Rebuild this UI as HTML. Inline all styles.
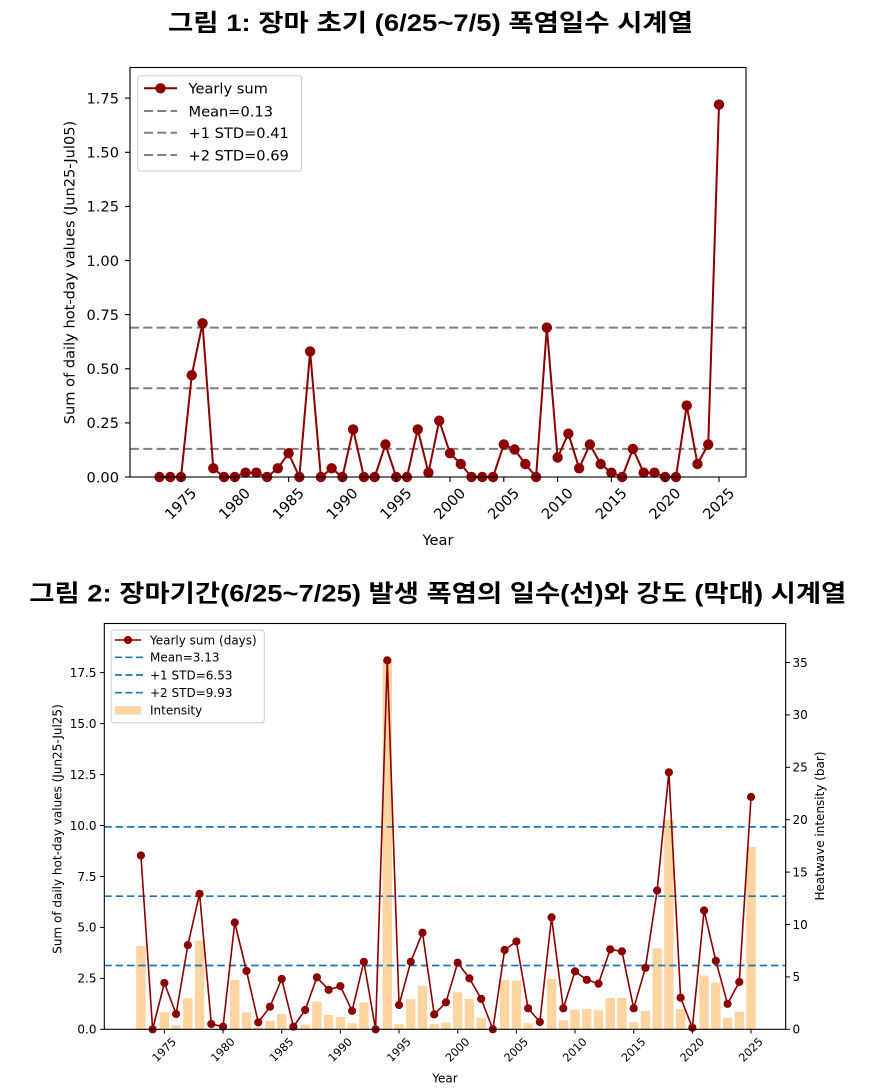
<!DOCTYPE html>
<html>
<head>
<meta charset="utf-8">
<style>
html,body{margin:0;padding:0;background:#fff;}
svg{display:block;}
.t{font-family:"DejaVu Sans","Liberation Sans",sans-serif;fill:#000;}
.ttl{font-family:"Liberation Sans","Noto Sans CJK KR","NanumGothic",sans-serif;font-weight:bold;fill:#000;}
</style>
</head>
<body>
<svg width="879" height="1088" viewBox="0 0 879 1088" xmlns="http://www.w3.org/2000/svg">
<defs>
<marker id="m1" markerWidth="12" markerHeight="12" refX="6" refY="6" markerUnits="userSpaceOnUse"><circle cx="6" cy="6" r="5.2" fill="#8b0000"/></marker>
<marker id="m2" markerWidth="10" markerHeight="10" refX="5" refY="5" markerUnits="userSpaceOnUse"><circle cx="5" cy="5" r="4.1" fill="#8b0000"/></marker>
</defs>
<rect x="0" y="0" width="879" height="1088" fill="#fff"/>

<!-- ================= TITLE 1 ================= -->
<text class="ttl" x="168" y="31" font-size="24" textLength="525" lengthAdjust="spacingAndGlyphs">그림 1: 장마 초기 (6/25~7/5) 폭염일수 시계열</text>

<!-- ================= CHART 1 ================= -->
<g>
<!-- reference lines -->
<g stroke="#808080" stroke-width="2" stroke-dasharray="9 4.3" fill="none">
<line x1="130" y1="448.9" x2="746" y2="448.9"/>
<line x1="130" y1="388.2" x2="746" y2="388.2"/>
<line x1="130" y1="327.6" x2="746" y2="327.6"/>
</g>
<!-- data -->
<polyline fill="none" stroke="#8b0000" stroke-width="2" stroke-linejoin="round" marker-start="url(#m1)" marker-mid="url(#m1)" marker-end="url(#m1)" points="159.48,477 170.24,477 181,477 191.76,375.2 202.52,323.3 213.28,468.3 224.04,477 234.8,477 245.56,472.7 256.32,472.7 267.08,477 277.84,468.3 288.6,453.2 299.36,477 310.12,351.4 320.88,477 331.64,468.3 342.4,477 353.16,429.4 363.92,477 374.68,477 385.44,444.5 396.2,477 406.96,477 417.72,429.4 428.48,472.7 439.24,420.7 450,453.2 460.76,464 471.52,477 482.28,477 493.04,477 503.8,444.5 514.56,449.5 525.32,464 536.08,477 546.84,327.6 557.6,457.5 568.36,433.7 579.12,468.3 589.88,444.5 600.64,464 611.4,472.7 622.16,477 632.92,448.9 643.68,472.7 654.44,472.7 665.2,477 675.96,477 686.72,405.6 697.48,464 708.24,444.5 719,104.6"/>
<!-- axes frame -->
<rect x="130" y="67.5" width="616" height="409.5" fill="none" stroke="#000" stroke-width="1.1"/>
<!-- y ticks -->
<g stroke="#000" stroke-width="1.1">
<line x1="125" y1="477" x2="130" y2="477"/>
<line x1="125" y1="422.9" x2="130" y2="422.9"/>
<line x1="125" y1="368.8" x2="130" y2="368.8"/>
<line x1="125" y1="314.6" x2="130" y2="314.6"/>
<line x1="125" y1="260.5" x2="130" y2="260.5"/>
<line x1="125" y1="206.4" x2="130" y2="206.4"/>
<line x1="125" y1="152.3" x2="130" y2="152.3"/>
<line x1="125" y1="98.1" x2="130" y2="98.1"/>
<line x1="181" y1="477" x2="181" y2="482"/>
<line x1="234.8" y1="477" x2="234.8" y2="482"/>
<line x1="288.6" y1="477" x2="288.6" y2="482"/>
<line x1="342.4" y1="477" x2="342.4" y2="482"/>
<line x1="396.2" y1="477" x2="396.2" y2="482"/>
<line x1="450" y1="477" x2="450" y2="482"/>
<line x1="503.8" y1="477" x2="503.8" y2="482"/>
<line x1="557.6" y1="477" x2="557.6" y2="482"/>
<line x1="611.4" y1="477" x2="611.4" y2="482"/>
<line x1="665.2" y1="477" x2="665.2" y2="482"/>
<line x1="719" y1="477" x2="719" y2="482"/>
</g>
<g class="t" font-size="14.6" text-anchor="end">
<text x="119" y="482.3">0.00</text>
<text x="119" y="428.2">0.25</text>
<text x="119" y="374.1">0.50</text>
<text x="119" y="319.9">0.75</text>
<text x="119" y="265.8">1.00</text>
<text x="119" y="211.7">1.25</text>
<text x="119" y="157.6">1.50</text>
<text x="119" y="103.4">1.75</text>
</g>
<g class="t" font-size="14.6" text-anchor="middle" dominant-baseline="central">
<text transform="translate(181,504) rotate(-45)">1975</text>
<text transform="translate(234.8,504) rotate(-45)">1980</text>
<text transform="translate(288.6,504) rotate(-45)">1985</text>
<text transform="translate(342.4,504) rotate(-45)">1990</text>
<text transform="translate(396.2,504) rotate(-45)">1995</text>
<text transform="translate(450,504) rotate(-45)">2000</text>
<text transform="translate(503.8,504) rotate(-45)">2005</text>
<text transform="translate(557.6,504) rotate(-45)">2010</text>
<text transform="translate(611.4,504) rotate(-45)">2015</text>
<text transform="translate(665.2,504) rotate(-45)">2020</text>
<text transform="translate(719,504) rotate(-45)">2025</text>
</g>
<text class="t" font-size="14.6" text-anchor="middle" x="438" y="545">Year</text>
<text class="t" font-size="14.6" text-anchor="middle" dominant-baseline="central" transform="translate(70,272.5) rotate(-90)">Sum of daily hot-day values (Jun25-Jul05)</text>
<!-- legend -->
<rect x="137.7" y="75.7" width="164" height="95.3" rx="3" ry="3" fill="#fff" fill-opacity="0.85" stroke="#cccccc" stroke-width="1"/>
<line x1="144" y1="88.3" x2="177" y2="88.3" stroke="#8b0000" stroke-width="2"/>
<circle cx="160.5" cy="88.3" r="5.2" fill="#8b0000"/>
<g stroke="#808080" stroke-width="2" stroke-dasharray="9 4.3">
<line x1="144" y1="111" x2="177" y2="111"/>
<line x1="144" y1="132.7" x2="177" y2="132.7"/>
<line x1="144" y1="155" x2="177" y2="155"/>
</g>
<g class="t" font-size="14.6">
<text x="188.5" y="93.6">Yearly sum</text>
<text x="188.5" y="116.3">Mean=0.13</text>
<text x="188.5" y="138">+1 STD=0.41</text>
<text x="188.5" y="160.3">+2 STD=0.69</text>
</g>
</g>

<!-- ================= TITLE 2 ================= -->
<text class="ttl" x="29.3" y="601.5" font-size="24" textLength="817" lengthAdjust="spacingAndGlyphs">그림 2: 장마기간(6/25~7/25) 발생 폭염의 일수(선)와 강도 (막대) 시계열</text>

<!-- ================= CHART 2 ================= -->
<g>
<!-- bars -->
<g fill="#fed4a0">
<rect x="136.22" y="946.0" width="9.39" height="83.3"/>
<rect x="159.68" y="1012.3" width="9.39" height="17.0"/>
<rect x="171.42" y="1025.3" width="9.39" height="4.0"/>
<rect x="183.15" y="998.3" width="9.39" height="31.0"/>
<rect x="194.88" y="940.6" width="9.39" height="88.7"/>
<rect x="230.08" y="980.0" width="9.39" height="49.3"/>
<rect x="241.82" y="1012.3" width="9.39" height="17.0"/>
<rect x="253.55" y="1027.3" width="9.39" height="2.0"/>
<rect x="265.28" y="1020.6" width="9.39" height="8.7"/>
<rect x="277.02" y="1014.0" width="9.39" height="15.3"/>
<rect x="300.48" y="1024.7" width="9.39" height="4.6"/>
<rect x="312.22" y="1001.6" width="9.39" height="27.7"/>
<rect x="323.95" y="1015.0" width="9.39" height="14.3"/>
<rect x="335.68" y="1017.0" width="9.39" height="12.3"/>
<rect x="347.41" y="1023.3" width="9.39" height="6.0"/>
<rect x="359.15" y="1002.4" width="9.39" height="26.9"/>
<rect x="382.61" y="660.4" width="9.39" height="368.9"/>
<rect x="394.35" y="1024.1" width="9.39" height="5.2"/>
<rect x="406.08" y="999.3" width="9.39" height="30.0"/>
<rect x="417.81" y="985.7" width="9.39" height="43.6"/>
<rect x="429.54" y="1024.1" width="9.39" height="5.2"/>
<rect x="441.28" y="1022.7" width="9.39" height="6.6"/>
<rect x="453.01" y="992.3" width="9.39" height="37.0"/>
<rect x="464.74" y="999.0" width="9.39" height="30.3"/>
<rect x="476.48" y="1017.7" width="9.39" height="11.6"/>
<rect x="499.94" y="980.0" width="9.39" height="49.3"/>
<rect x="511.68" y="980.7" width="9.39" height="48.6"/>
<rect x="523.41" y="1023.3" width="9.39" height="6.0"/>
<rect x="535.14" y="1028.3" width="9.39" height="1.0"/>
<rect x="546.87" y="979.0" width="9.39" height="50.3"/>
<rect x="558.61" y="1020.3" width="9.39" height="9.0"/>
<rect x="570.34" y="1009.7" width="9.39" height="19.6"/>
<rect x="582.07" y="1009.1" width="9.39" height="20.2"/>
<rect x="593.81" y="1010.3" width="9.39" height="19.0"/>
<rect x="605.54" y="998.0" width="9.39" height="31.3"/>
<rect x="617.27" y="998.0" width="9.39" height="31.3"/>
<rect x="629.01" y="1022.3" width="9.39" height="7.0"/>
<rect x="640.74" y="1011.0" width="9.39" height="18.3"/>
<rect x="652.47" y="948.3" width="9.39" height="81.0"/>
<rect x="664.20" y="820.0" width="9.39" height="209.3"/>
<rect x="675.94" y="1009.0" width="9.39" height="20.3"/>
<rect x="699.40" y="975.6" width="9.39" height="53.7"/>
<rect x="711.14" y="982.7" width="9.39" height="46.6"/>
<rect x="722.87" y="1017.7" width="9.39" height="11.6"/>
<rect x="734.60" y="1011.7" width="9.39" height="17.6"/>
<rect x="746.34" y="846.9" width="9.39" height="182.4"/>
</g>
<!-- reference lines -->
<g stroke="#1f77b4" stroke-width="1.7" stroke-dasharray="7.5 3.8" fill="none">
<line x1="104.3" y1="965.5" x2="785.7" y2="965.5"/>
<line x1="104.3" y1="896.2" x2="785.7" y2="896.2"/>
<line x1="104.3" y1="826.9" x2="785.7" y2="826.9"/>
</g>
<!-- line -->
<polyline fill="none" stroke="#8b0000" stroke-width="1.6" stroke-linejoin="round" marker-start="url(#m2)" marker-mid="url(#m2)" marker-end="url(#m2)" points="140.91,855.5 152.64,1029.3 164.37,983.0 176.11,1014.0 187.84,945.1 199.57,893.8 211.31,1024.0 223.04,1026.7 234.77,922.5 246.51,971.0 258.24,1022.4 269.97,1006.7 281.71,979.0 293.44,1026.7 305.17,1010.0 316.91,977.3 328.64,989.8 340.37,986.1 352.10,1010.8 363.84,961.8 375.57,1029.3 387.30,660.4 399.04,1005.0 410.77,961.8 422.50,932.7 434.23,1014.4 445.97,1002.4 457.70,962.7 469.43,978.4 481.17,998.9 492.90,1029.3 504.63,950.0 516.37,941.5 528.10,1008.3 539.83,1022.0 551.56,917.4 563.30,1008.3 575.03,971.4 586.76,979.8 598.50,983.6 610.23,949.4 621.96,951.4 633.70,1008.3 645.43,967.8 657.16,890.5 668.89,772.3 680.63,997.7 692.36,1027.7 704.09,910.5 715.83,960.8 727.56,1003.8 739.29,982.0 751.03,797.0"/>
<!-- axes frame -->
<rect x="104.3" y="623.5" width="681.4" height="405.8" fill="none" stroke="#000" stroke-width="1.1"/>
<g stroke="#000" stroke-width="1">
<line x1="100" y1="1029.3" x2="104.3" y2="1029.3"/>
<line x1="100" y1="978.4" x2="104.3" y2="978.4"/>
<line x1="100" y1="927.4" x2="104.3" y2="927.4"/>
<line x1="100" y1="876.5" x2="104.3" y2="876.5"/>
<line x1="100" y1="825.5" x2="104.3" y2="825.5"/>
<line x1="100" y1="774.6" x2="104.3" y2="774.6"/>
<line x1="100" y1="723.6" x2="104.3" y2="723.6"/>
<line x1="100" y1="672.6" x2="104.3" y2="672.6"/>
<line x1="785.7" y1="1029.3" x2="790" y2="1029.3"/>
<line x1="785.7" y1="976.9" x2="790" y2="976.9"/>
<line x1="785.7" y1="924.5" x2="790" y2="924.5"/>
<line x1="785.7" y1="872.1" x2="790" y2="872.1"/>
<line x1="785.7" y1="819.7" x2="790" y2="819.7"/>
<line x1="785.7" y1="767.3" x2="790" y2="767.3"/>
<line x1="785.7" y1="714.9" x2="790" y2="714.9"/>
<line x1="785.7" y1="662.5" x2="790" y2="662.5"/>
<line x1="164.37" y1="1029.3" x2="164.37" y2="1033.6"/>
<line x1="223.04" y1="1029.3" x2="223.04" y2="1033.6"/>
<line x1="281.71" y1="1029.3" x2="281.71" y2="1033.6"/>
<line x1="340.37" y1="1029.3" x2="340.37" y2="1033.6"/>
<line x1="399.04" y1="1029.3" x2="399.04" y2="1033.6"/>
<line x1="457.70" y1="1029.3" x2="457.70" y2="1033.6"/>
<line x1="516.37" y1="1029.3" x2="516.37" y2="1033.6"/>
<line x1="575.03" y1="1029.3" x2="575.03" y2="1033.6"/>
<line x1="633.70" y1="1029.3" x2="633.70" y2="1033.6"/>
<line x1="692.36" y1="1029.3" x2="692.36" y2="1033.6"/>
<line x1="751.03" y1="1029.3" x2="751.03" y2="1033.6"/>
</g>
<g class="t" font-size="12" text-anchor="end">
<text x="96.5" y="1033.6">0.0</text>
<text x="96.5" y="982.7">2.5</text>
<text x="96.5" y="931.7">5.0</text>
<text x="96.5" y="880.8">7.5</text>
<text x="96.5" y="829.8">10.0</text>
<text x="96.5" y="778.9">12.5</text>
<text x="96.5" y="727.9">15.0</text>
<text x="96.5" y="676.9">17.5</text>
</g>
<g class="t" font-size="12" text-anchor="start">
<text x="792.5" y="1033.6">0</text>
<text x="792.5" y="981.2">5</text>
<text x="792.5" y="928.8">10</text>
<text x="792.5" y="876.4">15</text>
<text x="792.5" y="824.0">20</text>
<text x="792.5" y="771.6">25</text>
<text x="792.5" y="719.2">30</text>
<text x="792.5" y="666.8">35</text>
</g>
<g class="t" font-size="11.2" text-anchor="middle" dominant-baseline="central">
<text transform="translate(164.37,1050) rotate(-45)">1975</text>
<text transform="translate(223.04,1050) rotate(-45)">1980</text>
<text transform="translate(281.71,1050) rotate(-45)">1985</text>
<text transform="translate(340.37,1050) rotate(-45)">1990</text>
<text transform="translate(399.04,1050) rotate(-45)">1995</text>
<text transform="translate(457.70,1050) rotate(-45)">2000</text>
<text transform="translate(516.37,1050) rotate(-45)">2005</text>
<text transform="translate(575.03,1050) rotate(-45)">2010</text>
<text transform="translate(633.70,1050) rotate(-45)">2015</text>
<text transform="translate(692.36,1050) rotate(-45)">2020</text>
<text transform="translate(751.03,1050) rotate(-45)">2025</text>
</g>
<text class="t" font-size="12" text-anchor="middle" x="445" y="1082.5">Year</text>
<text class="t" font-size="12" text-anchor="middle" dominant-baseline="central" transform="translate(57.5,829) rotate(-90)">Sum of daily hot-day values (Jun25-Jul25)</text>
<text class="t" font-size="12" text-anchor="middle" dominant-baseline="central" transform="translate(820,826) rotate(-90)">Heatwave intensity (bar)</text>
<!-- legend -->
<rect x="111" y="630" width="153.3" height="92.7" rx="3" ry="3" fill="#fff" fill-opacity="0.85" stroke="#cccccc" stroke-width="1"/>
<line x1="115" y1="640" x2="141" y2="640" stroke="#8b0000" stroke-width="1.6"/>
<circle cx="128" cy="640" r="4.1" fill="#8b0000"/>
<g stroke="#1f77b4" stroke-width="1.7" stroke-dasharray="7 3.5">
<line x1="115" y1="657.3" x2="143" y2="657.3"/>
<line x1="115" y1="675" x2="143" y2="675"/>
<line x1="115" y1="692.7" x2="143" y2="692.7"/>
</g>
<rect x="115" y="706" width="26" height="8.6" fill="#fed4a0"/>
<g class="t" font-size="12">
<text x="150" y="644.3">Yearly sum (days)</text>
<text x="150" y="661.6">Mean=3.13</text>
<text x="150" y="679.3">+1 STD=6.53</text>
<text x="150" y="697">+2 STD=9.93</text>
<text x="150" y="714.3">Intensity</text>
</g>
</g>
</svg>
</body>
</html>
